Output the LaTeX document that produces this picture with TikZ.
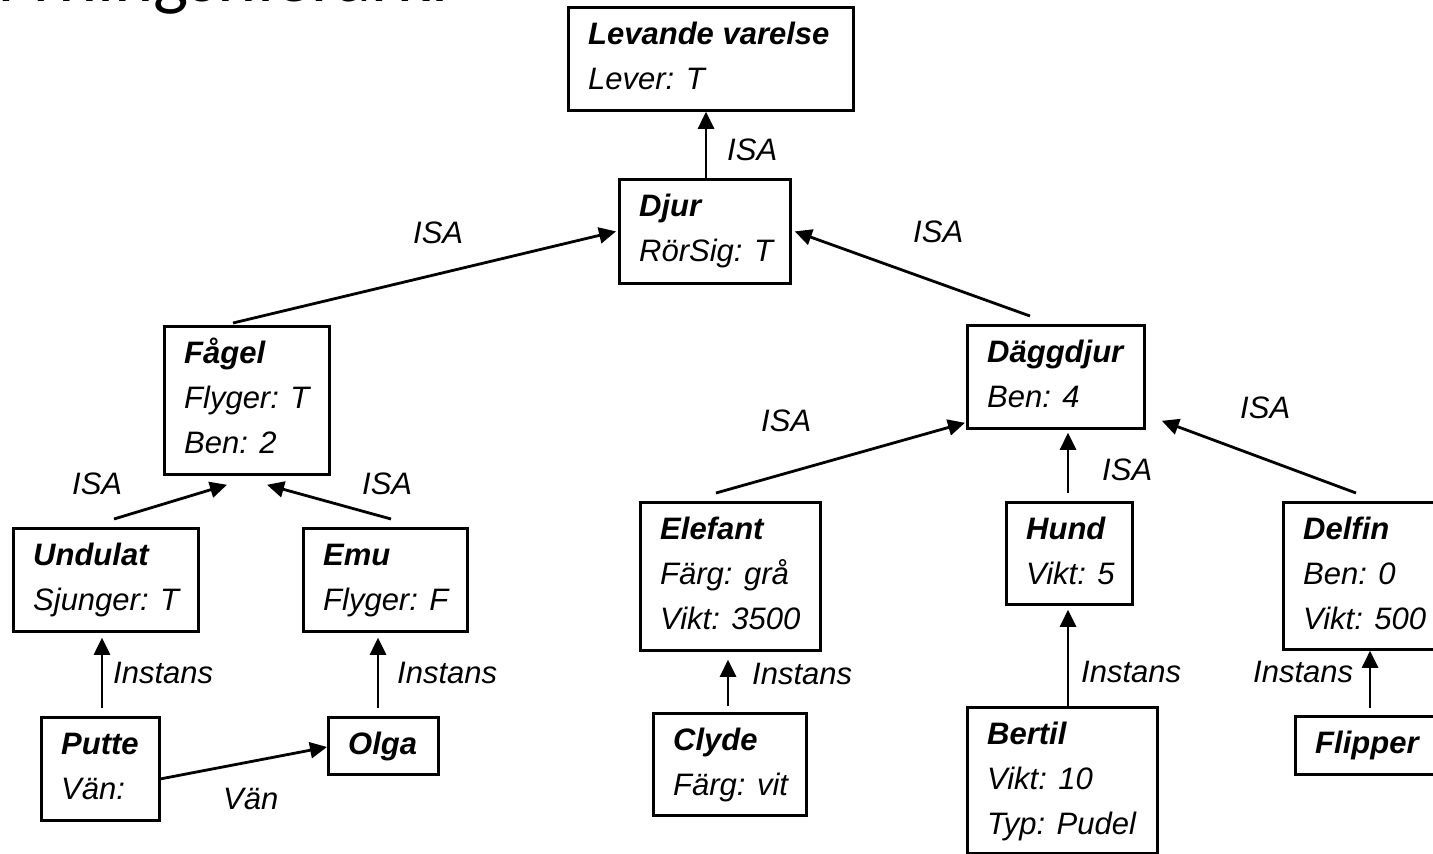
\documentclass[tikz,border=0pt]{standalone}
\usepackage{fontspec}
\setmainfont{Liberation Sans}
\newfontfamily\headfont{Carlito}
\usetikzlibrary{arrows.meta,calc}

% one object frame: name, upper-left x/y, lower-right x/y, rows
\newcommand{\objbox}[6]{%
  \node[objframe, minimum width={(#4-#2)*1pt}, minimum height={(#5-#3)*1pt}]
    (#1) at (#2,#3) {};
  \node[objtext] (#1-t) at ($(#1.north west)+(21,38.5)$)
    {\vtop{\baselineskip=45pt #6}};}
\newcommand{\ttl}[1]{\hbox{\bfseries\itshape #1}}
\newcommand{\attr}[1]{\hbox{\itshape #1}}

\tikzset{
  objframe/.style={draw, rectangle, line width=2.8pt, inner sep=0pt,
                   anchor=north west},
  objtext/.style={anchor=base west, inner sep=0pt,
                  font=\fontsize{31}{45}\selectfont\itshape},
  lab/.style={anchor=base west, inner sep=0pt,
              font=\fontsize{31}{37}\selectfont\itshape},
  link/.style={line width=2.8pt, -{Triangle[length=17pt,width=16pt]}},
}

\begin{document}
\begin{tikzpicture}[x=1pt, y=-1pt]
\useasboundingbox (0,0) rectangle (1433,854);
\clip (0,0) rectangle (1433,854);

% heading
\node[anchor=base east, inner sep=0pt, font=\headfont\fontsize{74.5}{80}\selectfont]
  (heading) at (448.5,1) {Ärvningshierarki};

% frames
\objbox{lev}{567}{6}{852}{109}{\ttl{Levande varelse}\attr{Lever: T}}
\objbox{djur}{618}{178}{789}{282}{\ttl{Djur}\attr{RörSig: T}}
\objbox{fagel}{163}{325}{328}{473}{\ttl{Fågel}\attr{Flyger: T}\attr{Ben: 2}}
\objbox{dagg}{966}{324}{1143}{427}{\ttl{Däggdjur}\attr{Ben: 4}}
\objbox{undulat}{12}{527}{197}{630}{\ttl{Undulat}\attr{Sjunger: T}}
\objbox{emu}{302}{527}{466}{630}{\ttl{Emu}\attr{Flyger: F}}
\objbox{putte}{40}{716}{158}{819}{\ttl{Putte}\attr{Vän:}}
\objbox{olga}{327}{716}{437}{773}{\ttl{Olga}}
\objbox{elefant}{639}{501}{819}{649}{\ttl{Elefant}\attr{Färg: grå}\attr{Vikt: 3500}}
\objbox{hund}{1005}{501}{1131}{603}{\ttl{Hund}\attr{Vikt: 5}}
\objbox{delfin}{1282}{501}{1445}{648}{\ttl{Delfin}\attr{Ben: 0}\attr{Vikt: 500}}
\objbox{clyde}{652}{712}{805}{814}{\ttl{Clyde}\attr{Färg: vit}}
\objbox{bertil}{966}{706}{1156}{852}{\ttl{Bertil}\attr{Vikt: 10}\attr{Typ: Pudel}}
\objbox{flipper}{1294}{715}{1445}{773}{\ttl{Flipper}}

% ISA links
\draw[link] ($(djur.north west)+(88,0)$) -- ($(lev.south west)+(139,0)$);
\draw[link] ($(fagel.north west)+(70,-2)$) -- ($(djur.west)+(-2,0)$);
\draw[link] ($(dagg.north west)+(64,-8)$) -- ($(djur.east)+(3,0)$);
\draw[link] ($(undulat.north west)+(102,-8)$) -- ($(fagel.south west)+(64,9)$);
\draw[link] ($(emu.north west)+(89,-8)$) -- ($(fagel.south west)+(104,9)$);
\draw[link] ($(elefant.north west)+(77,-8)$) -- ($(dagg.south west)+(-1,-7)$);
\draw[link] ($(hund.north west)+(63,-8)$) -- ($(dagg.south west)+(102,3)$);
\draw[link] ($(delfin.north west)+(74,-8)$) -- ($(dagg.south east)+(16,-9)$);

% instance links
\draw[link] ($(putte.north west)+(62,-8)$) -- ($(undulat.south west)+(90,5)$);
\draw[link] ($(olga.north west)+(51,-8)$) -- ($(emu.south west)+(76,5)$);
\draw[link] ($(clyde.north west)+(76,-6)$) -- ($(elefant.south west)+(89,8)$);
\draw[link] ($(bertil.north west)+(102,0)$) -- ($(hund.south west)+(63,4)$);
\draw[link] ($(flipper.north west)+(76,-7)$) -- ($(delfin.south west)+(88,0)$);

% friend link
\draw[link] ($(putte.north west)+(120,63)$) -- ($(olga.north west)+(0,31)$);

% link labels
\node[lab] (l-lev) at (727,160) {ISA};
\node[lab] (l-fagel) at (413,243) {ISA};
\node[lab] (l-dagg) at (913,242) {ISA};
\node[lab] (l-undulat) at (72,494) {ISA};
\node[lab] (l-emu) at (362,494) {ISA};
\node[lab] (l-elefant) at (761,431) {ISA};
\node[lab] (l-hund) at (1102,480) {ISA};
\node[lab] (l-delfin) at (1240,418) {ISA};
\node[lab] (l-putte) at (113,683) {Instans};
\node[lab] (l-olga) at (397,683) {Instans};
\node[lab] (l-clyde) at (752,684) {Instans};
\node[lab] (l-bertil) at (1081,682) {Instans};
\node[lab] (l-flipper) at (1253,682) {Instans};
\node[lab] (l-van) at (223,809) {Vän};
\end{tikzpicture}
\end{document}
